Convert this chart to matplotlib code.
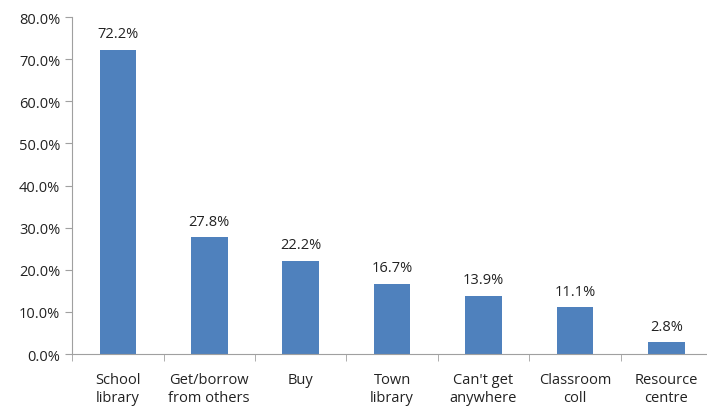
import matplotlib
matplotlib.use("Agg")
from matplotlib import pyplot as plt
from matplotlib.ticker import FuncFormatter, FixedLocator
import numpy as np

categories = ["School\nlibrary", "Get/borrow\nfrom others", "Buy", "Town\nlibrary",
              "Can't get\nanywhere", "Classroom\ncoll", "Resource\ncentre"]
values = [72.2, 27.8, 22.2, 16.7, 13.9, 11.1, 2.8]

plt.rcParams['font.family'] = ['Open Sans', 'DejaVu Sans']

fig = plt.figure(figsize=(7.07, 4.10), dpi=100)
ax = fig.add_axes([0.102, 0.134, 0.905, 0.822])

x = np.arange(len(values))
ax.bar(x, values, width=0.4, color="#4F81BD")

for xi, v in zip(x, values):
    ax.text(xi, v + 2.0, f"{v:.1f}%", ha="center", va="bottom", fontsize=10.5, color="#222222")

ax.set_xlim(-0.5, len(values) - 0.5)
ax.set_ylim(0, 80)
ax.set_yticks(np.arange(0, 81, 10))
ax.yaxis.set_major_formatter(FuncFormatter(lambda v, p: f"{v:.1f}%"))

# category labels centred, tick marks on boundaries
ax.set_xticks(x)
ax.set_xticklabels(categories, fontsize=10.5, color="#222222", linespacing=1.25)
ax.tick_params(axis="x", length=0, pad=13)
ax.xaxis.set_minor_locator(FixedLocator(np.arange(-0.5, len(values), 1.0)))
ax.tick_params(axis="x", which="minor", length=5, color="#A0A0A0", direction="out")
ax.tick_params(axis="y", length=5, color="#A0A0A0", labelsize=10.5, labelcolor="#222222")

for side in ["top", "right"]:
    ax.spines[side].set_visible(False)
for side in ["left", "bottom"]:
    ax.spines[side].set_color("#A0A0A0")

fig.savefig("out.png", dpi=100)
